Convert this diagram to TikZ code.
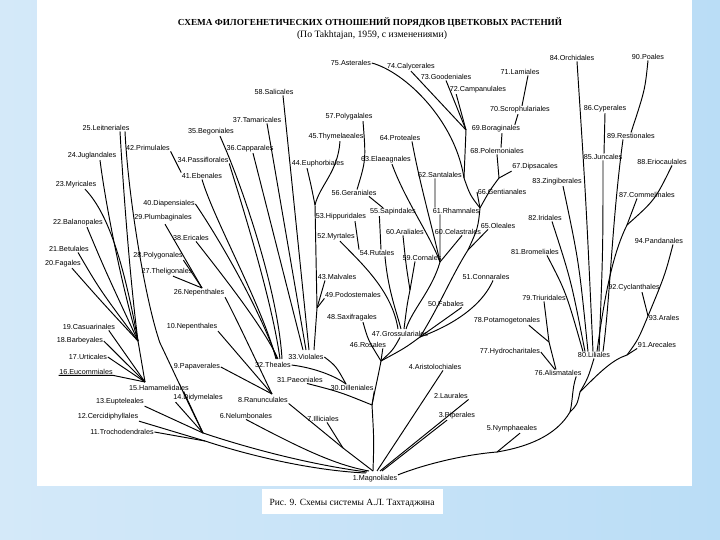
\documentclass[tikz,border=0pt]{standalone}
\usepackage{graphicx}
\usepackage{fontspec}
\setmainfont{Liberation Serif}
\newfontfamily\lblfont{Liberation Sans}
\usetikzlibrary{calc}
\definecolor{bgA}{RGB}{212,233,249}
\definecolor{bgB}{RGB}{186,221,246}
\tikzset{
  lbl/.style={font=\lblfont\fontsize{7.2}{8}\selectfont, inner sep=0.6pt, text=black},
  br/.style={line width=0.95pt, draw=black},
}
\begin{document}
\begin{tikzpicture}[x=1pt,y=-1pt]
\useasboundingbox (0,0) rectangle (720,540);
\shade[left color=bgA,right color=bgB] (0,0) rectangle (720,540);
\fill[white] (37,0) rectangle (692,486);
\fill[white] (262,489) rectangle (443,514);

% titles
\node[font=\bfseries, inner sep=0] (title) at (370,23) {\resizebox{384pt}{!}{СХЕМА ФИЛОГЕНЕТИЧЕСКИХ ОТНОШЕНИЙ ПОРЯДКОВ ЦВЕТКОВЫХ РАСТЕНИЙ}};
\node[inner sep=0] (subtitle) at (372,35) {\resizebox{150pt}{!}{(По Takhtajan, 1959, с изменениями)}};
\node[inner sep=0] (caption) at (352,503) {\resizebox{165pt}{!}{Рис. 9. Схемы системы А.Л. Тахтаджяна}};

% labels
\node[lbl] (l1) at (375,479) {1.Magnoliales};
\node[lbl] (l2) at (451,396) {2.Laurales};
\node[lbl] (l3) at (457,416) {3.Piperales};
\node[lbl] (l4) at (435,367) {4.Aristolochiales};
\node[lbl] (l5) at (512,429) {5.Nymphaeales};
\node[lbl] (l6) at (246,416) {6.Nelumbonales};
\node[lbl] (l7) at (323,419) {7.Illiciales};
\node[lbl] (l8) at (263,400) {8.Ranunculales};
\node[lbl] (l9) at (197,367) {9.Papaverales};
\node[lbl] (l10) at (192,327) {10.Nepenthales};
\node[lbl] (l11) at (122,432) {11.Trochodendrales};
\node[lbl] (l12) at (108,417) {12.Cercidiphyllales};
\node[lbl] (l13) at (120,402) {13.Eupteleales};
\node[lbl] (l14) at (198,398) {14.Didymelales};
\node[lbl] (l15) at (159,388) {15.Hamamelidales};
\node[lbl] (l16) at (86,372) {16.Eucommiales};
\node[lbl] (l17) at (88,357) {17.Urticales};
\node[lbl] (l18) at (80,341) {18.Barbeyales};
\node[lbl] (l19) at (89,327) {19.Casuarinales};
\node[lbl] (l20) at (63,264) {20.Fagales};
\node[lbl] (l21) at (69,249) {21.Betulales};
\node[lbl] (l22) at (78,223) {22.Balanopales};
\node[lbl] (l23) at (76,185) {23.Myricales};
\node[lbl] (l24) at (92,156) {24.Juglandales};
\node[lbl] (l25) at (106,128) {25.Leitneriales};
\node[lbl] (l26) at (199,293) {26.Nepenthales};
\node[lbl] (l27) at (167,272) {27.Theligonales};
\node[lbl] (l28) at (158,256) {28.Polygonales};
\node[lbl] (l29) at (163,218) {29.Plumbaginales};
\node[lbl] (l30) at (352,388) {30.Dilleniales};
\node[lbl] (l31) at (300,380) {31.Paeoniales};
\node[lbl] (l32) at (273,365) {32.Theales};
\node[lbl] (l33) at (306,357) {33.Violales};
\node[lbl] (l34) at (203,160) {34.Passiflorales};
\node[lbl] (l35) at (211,132) {35.Begoniales};
\node[lbl] (l36) at (250,149) {36.Capparales};
\node[lbl] (l37) at (257,120) {37.Tamaricales};
\node[lbl] (l38) at (191,238) {38.Ericales};
\node[lbl] (l40) at (169,204) {40.Diapensiales};
\node[lbl] (l41) at (202,176) {41.Ebenales};
\node[lbl] (l42) at (148,148) {42.Primulales};
\node[lbl] (l43) at (337,277) {43.Malvales};
\node[lbl] (l44) at (318,164) {44.Euphorbiales};
\node[lbl] (l45) at (336,137) {45.Thymelaeales};
\node[lbl] (l46) at (368,345) {46.Rosales};
\node[lbl] (l47) at (400,334) {47.Grossulariales};
\node[lbl] (l48) at (352,318) {48.Saxifragales};
\node[lbl] (l49) at (353,295) {49.Podostemales};
\node[lbl] (l50) at (446,304) {50.Fabales};
\node[lbl] (l51) at (486,277) {51.Connarales};
\node[lbl] (l52) at (336,237) {52.Myrtales};
\node[lbl] (l53) at (341,217) {53.Hippuridales};
\node[lbl] (l54) at (377,253) {54.Rutales};
\node[lbl] (l55) at (393,212) {55.Sapindales};
\node[lbl] (l56) at (354,193) {56.Geraniales};
\node[lbl] (l57) at (349,117) {57.Polygalales};
\node[lbl] (l58) at (274,92) {58.Salicales};
\node[lbl] (l59) at (422,258) {59.Cornales};
\node[lbl] (l60a) at (405,232) {60.Araliales};
\node[lbl] (l60c) at (458,232) {60.Celastrales};
\node[lbl] (l61) at (456,211) {61.Rhamnales};
\node[lbl] (l62) at (440,175) {62.Santalales};
\node[lbl] (l63) at (386,160) {63.Elaeagnales};
\node[lbl] (l64) at (400,138) {64.Proteales};
\node[lbl] (l65) at (498,226) {65.Oleales};
\node[lbl] (l66) at (502,192) {66.Gentianales};
\node[lbl] (l67) at (535,167) {67.Dipsacales};
\node[lbl] (l68) at (497,151) {68.Polemoniales};
\node[lbl] (l69) at (496,129) {69.Boraginales};
\node[lbl] (l70) at (520,110) {70.Scrophulariales};
\node[lbl] (l71) at (520,72) {71.Lamiales};
\node[lbl] (l72) at (478,90) {72.Campanulales};
\node[lbl] (l73) at (446,77) {73.Goodeniales};
\node[lbl] (l74) at (411,67) {74.Calycerales};
\node[lbl] (l76) at (351,63) {75.Asterales};
\node[lbl] (l76a) at (558,373) {76.Alismatales};
\node[lbl] (l77) at (510,352) {77.Hydrocharitales};
\node[lbl] (l78) at (507,321) {78.Potamogetonales};
\node[lbl] (l79) at (544,298) {79.Triuridales};
\node[lbl] (l80) at (594,355) {80.Liliales};
\node[lbl] (l81) at (535,252) {81.Bromeliales};
\node[lbl] (l82) at (545,218) {82.Iridales};
\node[lbl] (l83) at (557,182) {83.Zingiberales};
\node[lbl] (l84) at (572,58) {84.Orchidales};
\node[lbl] (l85) at (603,157) {85.Juncales};
\node[lbl] (l86) at (605,109) {86.Cyperales};
\node[lbl] (l87) at (647,195) {87.Commelinales};
\node[lbl] (l88) at (662,162) {88.Eriocaulales};
\node[lbl] (l89) at (631,136) {89.Restionales};
\node[lbl] (l90) at (648,57) {90.Poales};
\node[lbl] (l91) at (657,345) {91.Arecales};
\node[lbl] (l92) at (634,288) {92.Cyclanthales};
\node[lbl] (l93) at (664,318) {93.Arales};
\node[lbl] (l94) at (659,241) {94.Pandanales};

% hubs
\coordinate (R) at (373,471);
\coordinate (T) at (372,405);
\coordinate (Ros) at (381,361);
\coordinate (Gr) at (401,329);
\coordinate (Fa) at (420,337);
\coordinate (Sa) at (440,262);
\coordinate (Co) at (410,290);
\coordinate (As) at (480,208);
\coordinate (A1) at (499,178);
\coordinate (A2) at (464,178);
\coordinate (J74) at (466,130);
\coordinate (Ol) at (468,250);
\coordinate (V) at (311,350);
\coordinate (Th) at (279,359);
\coordinate (Dh) at (346,384);
\coordinate (J2) at (315,205);
\coordinate (J) at (317,308);
\coordinate (Rn) at (272,394);
\coordinate (IlJ) at (343,448);
\coordinate (Np) at (202,288);
\coordinate (U) at (138,341);
\coordinate (H) at (145,382);
\coordinate (HLa) at (203,433);
\coordinate (HLb) at (205,441);
\coordinate (L2a) at (160,343);
\coordinate (Ny) at (497,452);
\coordinate (Mc) at (570,412);
\coordinate (ArJ) at (580,392);
\coordinate (ArK) at (627,355);
\coordinate (Ara) at (648,316);
\coordinate (Po) at (549,342);
\coordinate (Cm) at (627,225);

% ---- trunk and root
\draw[br] (R) .. controls (374,440) .. (T);
\draw[br] (T) .. controls (376,385) and (379,372) .. (Ros);
\draw[br] (l30.south east) -- (T);
\draw[br] ($(l31.south)+(7,0)$) .. controls (340,392) .. (T);
\draw[br] (l33.east) .. controls (336,366) .. (Dh);
\draw[br] (l32.east) .. controls (315,368) and (335,376) .. (Dh);
\draw[br] ($(l4.south)+(8,0)$) -- ($(R)+(4,0)$);
\draw[br] (l2.south east) -- ($(R)+(7,0)$);
\draw[br] ($(l3.south)+(-10,0)$) -- ($(R)+(9,0)$);
\draw[br] (l1.north east) .. controls (420,466) and (460,455) .. (Ny);
\draw[br] (Ny) .. controls (527,447) and (556,436) .. (Mc);
\draw[br] (Ny) -- ($(l5.south)+(8,0)$);

% ---- Ranunculids and others to root
\draw[br] (l8.south east) -- (IlJ) -- (R);
\draw[br] ($(l7.south)+(4,0)$) -- (IlJ);
\draw[br] (l6.south) .. controls (300,448) and (335,465) .. ($(R)+(-4,0)$);
\draw[br] (HLa) .. controls (260,452) and (320,466) .. ($(R)+(-6,1)$);
\draw[br] (HLb) .. controls (260,459) and (320,471) .. ($(R)+(-7,2)$);
\draw[br] (l9.east) -- (Rn);
\draw[br] (l10.south east) -- (Rn);
\draw[br] (l26.south east) .. controls (238,322) and (258,365) .. (Rn);
\draw[br] ($(l29.south)+(2,2)$) -- (Np);
\draw[br] (l28.south east) -- (Np);
\draw[br] ($(l27.south)+(6,0)$) -- (Np);

% ---- Dilleniids to Theales and Violales
\draw[br] (l42.south east) -- (l41.north west);
\draw[br] (l41.south) .. controls (214,220) and (262,305) .. ($(Th)+(-3,0)$);
\draw[br] (l40.east) .. controls (212,228) and (256,300) .. ($(Th)+(-2,0)$);
\draw[br] ($(l38.south)+(5,0)$) .. controls (228,282) and (265,330) .. ($(Th)+(-1,0)$);
\draw[br] (l34.south east) .. controls (242,205) and (272,300) .. ($(Th)+(1,0)$);
\draw[br] ($(l35.south)+(9,0)$) .. controls (242,185) and (278,290) .. ($(Th)+(3,0)$);
\draw[br] ($(l36.south)+(3,0)$) -- ($(V)+(-8,0)$);
\draw[br] ($(l37.south)+(10,0)$) -- ($(V)+(-5,0)$);
\draw[br] ($(l58.south)+(9,0)$) -- ($(V)+(-2,0)$);
\draw[br] ($(l44.south)+(-11,0)$) .. controls (311,185) .. (J2);
\draw[br] ($(l45.south)+(4,0)$) .. controls (338,172) and (320,185) .. (J2);
\draw[br] (J2) -- (J) -- ($(V)+(3,0)$);
\draw[br] ($(l43.south west)+(8,0)$) -- (J);
\draw[br] (l49.south west) -- (J);

% ---- Rosids
\draw[br] ($(l57.south)+(14,0)$) .. controls (366,160) .. ($(l56.north)+(3,0)$);
\draw[br] ($(l56.south)+(15,0)$) -- ($(l55.north)+(-10,0)$);
\draw[br] ($(l55.south west)+(10,0)$) -- ($(l54.north)+(4,0)$);
\draw[br] ($(l53.south)+(14,0)$) -- (l54.north west);
\draw[br] ($(l54.south)+(8,0)$) .. controls (388,290) and (396,310) .. (Gr);
\draw[br] ($(l52.south)+(4,0)$) .. controls (360,262) and (392,290) .. ($(Gr)+(-3,0)$);
\draw[br] ($(l60a.south)+(-2,0)$) .. controls (406,265) .. (Co);
\draw[br] ($(l59.south)+(-7,0)$) -- (Co);
\draw[br] (Co) .. controls (407,305) .. ($(Gr)+(3,0)$);
\draw[br] ($(l63.south)+(6,0)$) .. controls (405,200) and (430,235) .. (Sa);
\draw[br] ($(l64.south)+(12,0)$) .. controls (420,185) and (433,230) .. (Sa);
\draw[br] ($(l62.south)+(-5,0)$) -- ($(l61.north west)+(3,0)$);
\draw[br] ($(l61.south west)+(8,0)$) -- (Sa);
\draw[br] ($(l60c.south)+(4,0)$) -- (Sa);
\draw[br] (Sa) .. controls (432,290) and (412,310) .. ($(Gr)+(5,0)$);
\draw[br] (l47.south) .. controls (393,350) .. (Ros);
\draw[br] ($(l46.south east)+(-4,0)$) -- (Ros);
\draw[br] ($(l48.south)+(11,0)$) .. controls (368,340) .. (Ros);
\draw[br] ($(l50.south east)+(-3,0)$) .. controls (440,322) .. (Fa);
\draw[br] ($(l51.south)+(7,0)$) .. controls (480,310) and (445,328) .. (Fa);
\draw[br] (Fa) .. controls (405,348) .. (Ros);

% ---- Asterids
\draw[br] (l76.east) .. controls (405,72) and (455,120) .. (A2);
\draw[br] (l74.south) -- (J74);
\draw[br] (l73.south) -- (J74);
\draw[br] ($(l72.south west)+(7,0)$) -- (J74);
\draw[br] (J74) -- (A2);
\draw[br] ($(l71.south)+(8,0)$) -- ($(l70.north)+(2,0)$);
\draw[br] ($(l70.south)+(-2,0)$) -- ($(l69.north east)+(-6,0)$);
\draw[br] ($(l69.south)+(6,0)$) -- ($(l68.north)+(4,0)$);
\draw[br] (l68.south) -- (A1);
\draw[br] (l67.south west) -- (A1);
\draw[br] (A1) .. controls (490,190) .. (As);
\draw[br] (A2) .. controls (470,195) .. (As);
\draw[br] (l66.west) -- (As);
\draw[br] (As) .. controls (478,228) .. (Ol);
\draw[br] (Ol) .. controls (452,275) and (440,305) .. (Fa);
\draw[br] ($(l65.south west)+(8,0)$) -- (Ol);

% ---- Hamamelids
\draw[br] ($(l25.south)+(14,0)$) .. controls (123,185) and (130,280) .. (U);
\draw[br] ($(l25.south)+(19,0)$) .. controls (128,195) and (145,300) .. (L2a) .. controls (172,368) and (188,403) .. (HLa);
\draw[br] ($(l24.south)+(8,0)$) .. controls (105,200) and (120,280) .. (U);
\draw[br] ($(l23.south)+(9,0)$) .. controls (110,215) and (125,270) .. (U);
\draw[br] ($(l22.south)+(9,0)$) .. controls (105,270) .. (U);
\draw[br] ($(l21.south)+(9,0)$) .. controls (100,290) .. (U);
\draw[br] ($(l20.south)+(9,0)$) .. controls (100,300) .. (U);
\draw[br] (U) -- (H);
\draw[br] ($(l19.south east)+(-7,0)$) -- (H);
\draw[br] (l18.east) -- (H);
\draw[br] (l17.east) -- (H);
\draw[br] (l16.south west) -- (l16.south east) -- (H);
\draw[br] ($(l15.south east)+(-6,0)$) -- (HLa);
\draw[br] ($(l14.south west)+(3,0)$) -- (HLa);
\draw[br] (l13.south east) -- (HLa);
\draw[br] (l12.south east) -- (HLb);
\draw[br] (l11.east) -- (HLb);

% ---- Monocots
\draw[br] (Mc) .. controls (573,400) and (572,388) .. ($(l76a.south east)+(-6,0)$);
\draw[br] (Po) -- ($(l76a.north)+(-2,0)$);
\draw[br] (l77.east) -- ($(l76a.north)+(-3,0)$);
\draw[br] ($(l78.south east)+(-12,0)$) .. controls (538,333) .. (Po);
\draw[br] (l79.south) -- (Po);
\draw[br] (Mc) .. controls (577,405) .. (ArJ) .. controls (588,378) .. (l80.south);
\draw[br] (ArJ) .. controls (600,372) and (612,360) .. (ArK) .. controls (632,352) .. (l91.south west);
\draw[br] (ArK) .. controls (638,340) .. (Ara);
\draw[br] ($(l92.south)+(8,0)$) -- (Ara);
\draw[br] ($(l94.south)+(14,0)$) .. controls (665,275) .. (Ara);
\draw[br] ($(l81.south)+(12,0)$) .. controls (566,292) .. ($(l80.north)+(-11,0)$);
\draw[br] ($(l82.south)+(7,0)$) .. controls (571,280) .. ($(l80.north)+(-9,0)$);
\draw[br] ($(l83.south)+(6,0)$) .. controls (579,262) .. ($(l80.north)+(-6,0)$);
\draw[br] ($(l84.south)+(5,0)$) .. controls (586,200) .. ($(l80.north)+(-1,0)$);
\draw[br] (l86.south) -- ($(l85.north)+(1,0)$);
\draw[br] (l85.south) .. controls (603,250) .. ($(l80.north)+(5,0)$);
\draw[br] (l90.south) .. controls (645,90) .. (l89.north);
\draw[br] ($(l89.south)+(-8,0)$) .. controls (612,220) and (610,300) .. ($(l80.north)+(9,0)$);
\draw[br] ($(l88.south)+(10,0)$) .. controls (655,200) .. (Cm);
\draw[br] ($(l87.south)+(-10,0)$) -- (Cm);
\draw[br] (Cm) .. controls (612,255) and (604,300) .. ($(l80.north)+(3,0)$);
\end{tikzpicture}
\end{document}
